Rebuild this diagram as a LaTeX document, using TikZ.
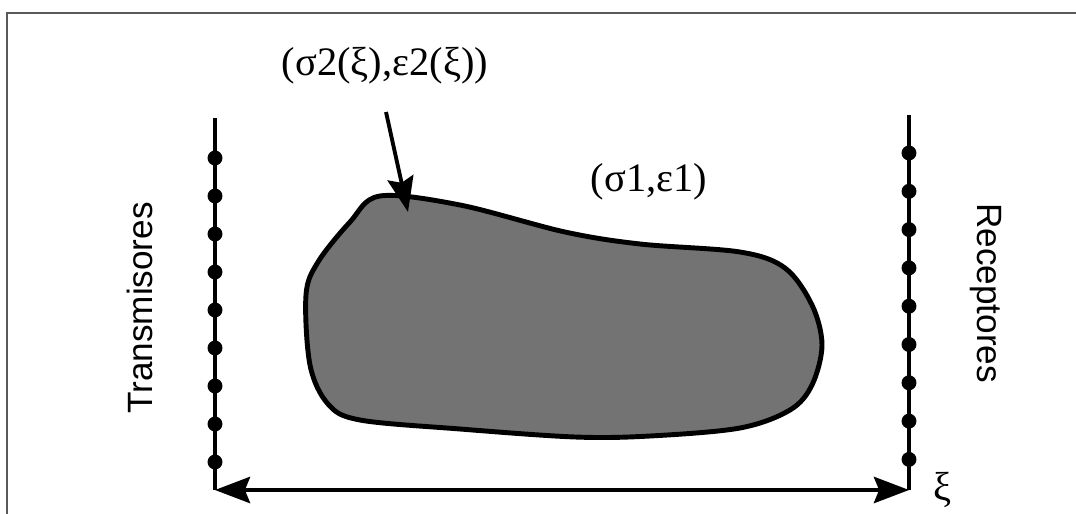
\documentclass[tikz,border=0pt]{standalone}
\usepackage{fontspec}
\setmainfont{Liberation Serif}
\setsansfont{Liberation Sans}
\usepackage{tikz}
\usetikzlibrary{arrows.meta}

\begin{document}
\begin{tikzpicture}[x=0.02cm, y=-0.02cm, >={Stealth[length=20pt,width=15pt,inset=3pt]},
    linea/.style={line width=2.4pt},
    punto/.style={circle, fill=black, inner sep=0pt, minimum size=8.5pt},
    etiqueta/.style={font=\fontsize{23}{27}\selectfont},
    rotulo/.style={font=\sffamily\fontsize{20}{24}\selectfont}]

\useasboundingbox (0,0) rectangle (1076,514);

% Marco
\draw[gray!70!black, line width=0.8pt] (7,514) -- (7,13) -- (1076,13);

% Objeto
\draw[line width=2.8pt, fill=black!55] plot[smooth cycle, tension=0.55] coordinates {
    (380,196) (460,205) (565,232) (640,244) (740,252) (785,268) (812,305)
    (822,345) (812,385) (790,410) (740,428) (650,436) (575,437) (460,429)
    (360,420) (328,404) (310,365) (306,295) (318,262) (350,222)};

% Transmisores
\coordinate (tx-top) at (215,118);
\coordinate (tx-bot) at (215,490);
\draw[linea] (tx-top) -- (tx-bot);
\foreach \i in {0,...,8}
    \node[punto] (tx-\i) at (215,158+38*\i) {};
\node[rotulo, rotate=90] (tx-lab) at (140,308) {Transmisores};

% Receptores
\coordinate (rx-top) at (909,115);
\coordinate (rx-bot) at (909,490);
\draw[linea] (rx-top) -- (rx-bot);
\foreach \i in {0,...,8}
    \node[punto] (rx-\i) at (909,153+38.3*\i) {};
\node[rotulo, rotate=-90] (rx-lab) at (986,293) {Receptores};

% Eje xi
\draw[<->, line width=2pt] (tx-bot) -- (rx-bot);
\node[etiqueta, anchor=base, inner sep=0pt] (xi) at (942,500) {ξ};

% Etiquetas
\node[etiqueta] (sig2) at (385,66) {(σ2(ξ),ε2(ξ))};
\node[etiqueta] (sig1) at (649,182) {(σ1,ε1)};
\coordinate (fl-ini) at (386,112);
\coordinate (fl-fin) at (408,212);
\draw[->, line width=2.2pt] (fl-ini) -- (fl-fin);

\end{tikzpicture}
\end{document}
